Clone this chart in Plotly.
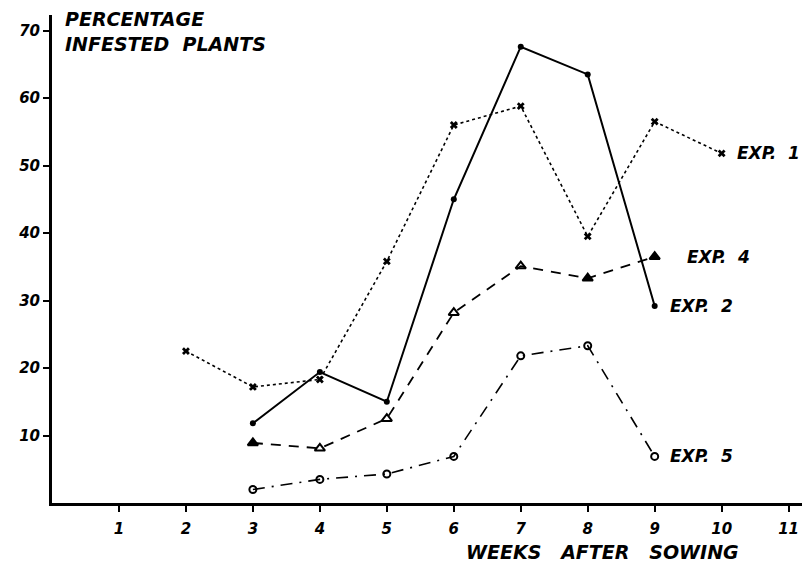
import plotly.graph_objects as go

weeks1 = [2, 3, 4, 5, 6, 7, 8, 9, 10]
exp1 = [22.5, 17.2, 18.3, 35.8, 56.0, 58.8, 39.5, 56.5, 51.8]

weeks2 = [3, 4, 5, 6, 7, 8, 9]
exp2 = [11.8, 19.4, 15.0, 45.0, 67.6, 63.5, 29.2]

weeks4 = [3, 4, 5, 6, 7, 8, 9]
exp4 = [8.9, 8.1, 12.5, 28.2, 35.1, 33.3, 36.5]
exp4_symbols = ["triangle-up", "triangle-up-open", "triangle-up-open", "triangle-up-open",
                "triangle-up-open", "triangle-up", "triangle-up"]

weeks5 = [3, 4, 5, 6, 7, 8, 9]
exp5 = [2.0, 3.5, 4.3, 6.9, 21.8, 23.3, 6.9]

series_labels = ["EXP. 1", "EXP. 2", "EXP. 4", "EXP. 5"]
x_ticks = list(range(1, 12))
y_ticks = [10, 20, 30, 40, 50, 60, 70]

FONT = "DejaVu Sans"
fig = go.Figure()

fig.add_trace(go.Scatter(
    x=weeks1, y=exp1, mode="lines+markers", name=series_labels[0],
    line=dict(color="black", width=1.6, dash="dot"),
    marker=dict(symbol="x", size=7, color="black", line=dict(width=0))))
fig.add_trace(go.Scatter(
    x=weeks2, y=exp2, mode="lines+markers", name=series_labels[1],
    line=dict(color="black", width=2),
    marker=dict(symbol="circle", size=6, color="black")))
fig.add_trace(go.Scatter(
    x=weeks4, y=exp4, mode="lines+markers", name=series_labels[2],
    line=dict(color="black", width=1.8, dash="10px,8px"),
    marker=dict(symbol=exp4_symbols, size=9, color="black", line=dict(width=2, color="black"))))
fig.add_trace(go.Scatter(
    x=weeks5, y=exp5, mode="lines+markers", name=series_labels[3],
    line=dict(color="black", width=1.6, dash="12px,7px,2px,7px"),
    marker=dict(symbol="circle-open", size=7, color="black", line=dict(width=2, color="black"))))

lab_font = dict(family=FONT, size=17, color="black", weight="bold", style="italic")
label_pos = [(weeks1[-1], exp1[-1]), (weeks2[-1], exp2[-1]), (weeks4[-1], exp4[-1]), (weeks5[-1], exp5[-1])]
offsets = [0.2, 0.2, 0.45, 0.2]
for lab, (lx, ly), off in zip(series_labels, label_pos, offsets):
    fig.add_annotation(x=lx + off, y=ly, text=lab.replace(" ", "&nbsp;&nbsp;"), showarrow=False,
                       xanchor="left", yanchor="middle", font=lab_font)

title_font = dict(family=FONT, size=19, color="black", weight="bold", style="italic")
fig.add_annotation(xref="paper", yref="paper", x=0.014, y=1.018, xanchor="left", yanchor="top",
                   text="PERCENTAGE<br>INFESTED&nbsp;&nbsp;PLANTS", showarrow=False, align="left",
                   font=title_font)
fig.add_annotation(xref="x", yref="paper", x=6.15, y=-0.1, xanchor="left", yanchor="middle",
                   text="WEEKS&nbsp;&nbsp;&nbsp;AFTER&nbsp;&nbsp;&nbsp;SOWING", showarrow=False,
                   font=dict(family=FONT, size=19, color="black", weight="bold", style="italic"))

tick_font = dict(family=FONT, size=15, color="black", weight="bold", style="italic")
# page body has an 8px margin, so the figure is sized/offset to compensate
fig.update_layout(
    width=802, height=560,
    margin=dict(l=44, r=8, t=7, b=65),
    paper_bgcolor="white", plot_bgcolor="white",
    showlegend=False,
    xaxis=dict(range=[0, 11.2], tickvals=x_ticks, ticks="outside", ticklen=6, tickwidth=2,
               tickcolor="black", showline=True, linewidth=3, linecolor="black",
               showgrid=False, zeroline=False, tickfont=tick_font, ticklabelstandoff=4,
               automargin=False),
    yaxis=dict(range=[0, 72.3], tickvals=y_ticks, ticks="outside", ticklen=6, tickwidth=2,
               tickcolor="black", showline=True, linewidth=3, linecolor="black",
               showgrid=False, zeroline=False, tickfont=tick_font, automargin=False),
)

fig.write_html("out.html")
